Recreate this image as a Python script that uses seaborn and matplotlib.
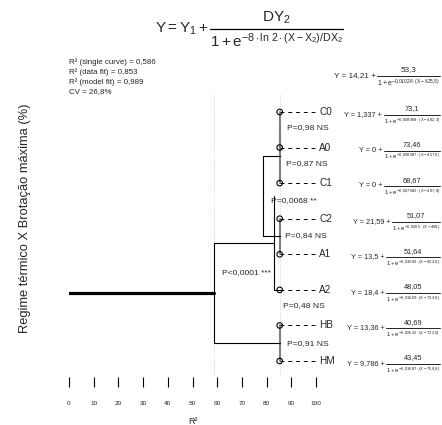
import matplotlib
matplotlib.use("Agg")
import matplotlib.pyplot as plt
from matplotlib.lines import Line2D
import seaborn as sns
import pandas as pd

# leaves of the tree (top to bottom) and their logistic fits
leaves = ["C0", "A0", "C1", "C2", "A1", "A2", "HB", "HM"]
y1_leaf = [1.337, 0, 0, 21.59, 13.5, 18.4, 13.36, 9.786]
dy2_leaf = [73.1, 73.46, 68.67, 51.07, 51.64, 48.05, 40.69, 43.45]
rate_leaf = [0.008908, 0.008087, 0.007582, 0.0265, 0.03083, 0.01609, 0.02622, 0.01687]
x2_leaf = [482.3, 457.8, 487.8, 468, 662.8, 733.8, 722.6, 758.8]

# single curve fit
y1_single, dy2_single, rate_single, x2_single = 14.21, 53.3, 0.01028, 625.5

# fit statistics
r2_single = 0.586
r2_data = 0.853
r2_model = 0.989
cv = 26.8

# merges of the tree: children, R2 level, p value
merge_a = ["C0", "m1", "C2", "HB", "m2", "A2", "m4"]
merge_b = ["A0", "C1", "A1", "HM", "m3", "m5", "m6"]
merge_r2 = [85.3, 85.3, 85.3, 85.3, 78.5, 83.0, 58.6]
merge_p = ["P=0,98 NS", "P=0,87 NS", "P=0,84 NS", "P=0,91 NS",
           "P=0,0068 **", "P=0,48 NS", "P<0,0001 ***"]

# where the p value labels go
p_pos = [(88.3, 0.45), (87.8, 1.45), (87.4, 3.46), (88.3, 6.5),
         (81.8, 2.5), (86.6, 5.45), (62.0, 4.5)]

sns.set_theme(style="white")
plt.rcParams['font.family'] = ['Liberation Sans', 'DejaVu Sans']
plt.rcParams['mathtext.fontset'] = 'custom'
plt.rcParams['mathtext.rm'] = 'Liberation Sans'
plt.rcParams['mathtext.it'] = 'Liberation Sans'
plt.rcParams['mathtext.bf'] = 'Liberation Sans:bold'
plt.rcParams['mathtext.default'] = 'regular'

W, H = 442, 425


def num(v):
    return f"{v:g}".replace('.', '{,}')


def txt(v):
    return f"{v:g}".replace('.', ',')


fig = plt.figure(figsize=(W / 100, H / 100), dpi=100)
ax = fig.add_axes([69 / W, 1 - 377 / H, 247 / W, (377 - 95) / H])
renderer = fig.canvas.get_renderer()


def fraction(prefix, numer, denom, x_right, y_bar, fs, fs_den,
             gap_num=2.5, gap_den=1.5, lw=0.6):
    # fraction drawn piece by piece, positions in figure pixels from the top
    d = fig.text(x_right / W, 1 - (y_bar + gap_den) / H, denom,
                 ha='right', va='top', fontsize=fs_den)
    x_left = d.get_window_extent(renderer=renderer).x0
    fig.add_artist(Line2D([x_left / W, x_right / W], [1 - y_bar / H] * 2,
                          transform=fig.transFigure, color='black', lw=lw))
    fig.text((x_left + x_right) / 2 / W, 1 - (y_bar - gap_num) / H, numer,
             ha='center', va='bottom', fontsize=fs)
    fig.text((x_left - 1.5) / W, 1 - (y_bar - 0.5) / H, prefix,
             ha='right', va='center', fontsize=fs)


leaf_x = r2_data * 100
leaf_df = pd.DataFrame({'leaf': leaves, 'r2': leaf_x, 'row': range(len(leaves))})

ax.set_xlim(0, 100)
ax.set_ylim(7 + 16 / 35.6, -(112 - 95) / 35.6)

# dotted reference lines at the R2 values
for v in [r2_single * 100, r2_data * 100]:
    ax.axvline(v, color='#c8c8c8', ls=(0, (1, 1.5)), lw=0.6, zorder=0)

pos = {name: (leaf_x, i) for i, name in enumerate(leaves)}
for k, (a, b, h) in enumerate(zip(merge_a, merge_b, merge_r2)):
    xa, ya = pos[a]
    xb, yb = pos[b]
    if h >= leaf_x:
        ax.plot([h, h], [ya, yb], color='#808080', lw=1.5, zorder=2)
    else:
        ax.plot([h, h], [ya, yb], color='black', lw=0.8, zorder=2)
    if xa > h:
        ax.plot([h, xa], [ya, ya], color='black', lw=0.8, zorder=2)
    if xb > h:
        ax.plot([h, xb], [yb, yb], color='black', lw=0.8, zorder=2)
    pos[f"m{k + 1}"] = (h, (ya + yb) / 2)
    ax.text(p_pos[k][0], p_pos[k][1], merge_p[k], fontsize=6.1,
            ha='left', va='center')

# root branch
root_x, root_y = pos[f"m{len(merge_r2)}"]
ax.plot([0, root_x], [root_y, root_y], color='black', lw=2.3, zorder=2)

# leaves: dashed stubs, circles, names
for i, name in enumerate(leaves):
    ax.plot([leaf_x, 99.6], [i, i], color='black', lw=0.7, ls=(0, (4, 4)))
    ax.text(101.4, i, name, fontsize=7.2, ha='left', va='center')
sns.scatterplot(data=leaf_df, x='r2', y='row', marker='o', s=16,
                facecolor='none', edgecolor='black', linewidth=0.8,
                ax=ax, zorder=5, legend=False)

ax.set_xticks(range(0, 101, 10))
ax.set_yticks([])
sns.despine(ax=ax, left=True, bottom=True)
ax.tick_params(axis='x', bottom=True, length=7.2, width=0.8, pad=10,
               labelsize=4.6, color='black')
ax.set_xlabel("R²", fontsize=6.5, labelpad=8)
ax.set_ylabel("Regime térmico X Brotação máxima (%)", fontsize=9.3)
ax.yaxis.set_label_coords(-0.155, (377 - 218) / (377 - 95))

# fitted curve of every leaf, next to its row
for i in range(len(leaves)):
    y_px = H - ax.transData.transform((0, i))[1] + 3
    fraction(f"Y = {txt(y1_leaf[i])} +", txt(dy2_leaf[i]),
             rf"$1 + e^{{-{num(rate_leaf[i])}\cdot(X-{num(x2_leaf[i])})}}$",
             440, y_px, 5.3, 4.3)

# single curve
fraction(f"Y = {txt(y1_single)} +", txt(dy2_single),
         rf"$1 + e^{{-{num(rate_single)}\cdot(X-{num(x2_single)})}}$",
         440, 76, 5.9, 5.0)

fig.text(69 / W, 1 - 77 / H,
         f"R² (single curve) = {txt(r2_single)}\n"
         f"R² (data fit) = {txt(r2_data)}\n"
         f"R² (model fit) = {txt(r2_model)}\n"
         f"CV = {txt(cv)}%",
         fontsize=5.7, ha='left', va='center', linespacing=1.4)

# model equation on top
fraction(r"$Y = Y_1 +$", r"$DY_2$",
         r"$1 + e^{-8\cdot\ln\,2\cdot(X-X_2)/DX_2}$",
         343, 29, 11, 11, gap_num=3, gap_den=3, lw=0.9)

fig.savefig("out.png", dpi=100)
